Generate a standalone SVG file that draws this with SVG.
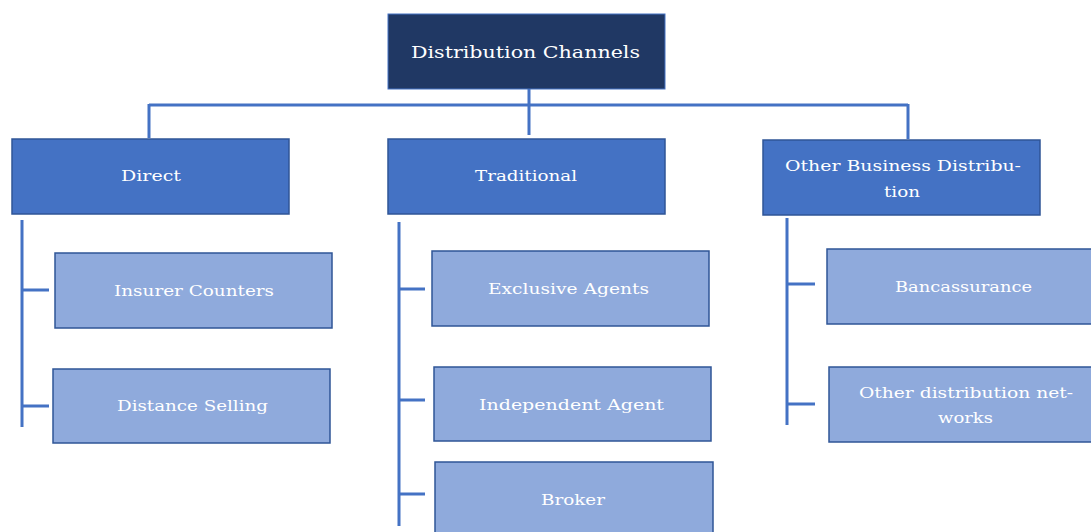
<svg xmlns="http://www.w3.org/2000/svg" width="1091" height="532" viewBox="0 0 1091 532">
<style>
.root{fill:#203864;stroke:#4472C4;stroke-width:1}
.l1{fill:#4472C4;stroke:#2F5597;stroke-width:1.5}
.l2{fill:#8FAADC;stroke:#2F5597;stroke-width:1.5}
.t{font-family:"DejaVu Serif","Liberation Serif",serif;font-size:15px;fill:#ffffff;text-anchor:middle;dominant-baseline:central}
.tr{font-size:17px}
.c{fill:none;stroke:#4472C4;stroke-width:3}
</style>
<rect width="1091" height="532" fill="#ffffff"/>
<g id="connectors">
<path class="c" d="M529 89V135M149 105H908M149 104V138M908 104V139"/>
<path class="c" d="M22 220V427M22 290H49M22 406H49"/>
<path class="c" d="M399 222V526M399 289H425M399 400H425M399 494H425"/>
<path class="c" d="M787 218V425M787 284H815M787 404H815"/>
</g>
<g id="root"><rect class="root" x="388" y="14" width="277" height="75"/><text class="t tr" x="525.5" y="52" textLength="229" lengthAdjust="spacingAndGlyphs">Distribution Channels</text></g>
<g id="direct"><rect class="l1" x="12" y="139" width="277" height="75"/><text class="t" x="151" y="176" textLength="60" lengthAdjust="spacingAndGlyphs">Direct</text></g>
<g id="traditional"><rect class="l1" x="388" y="139" width="277" height="75"/><text class="t" x="526" y="176" textLength="102" lengthAdjust="spacingAndGlyphs">Traditional</text></g>
<g id="other-business"><rect class="l1" x="763" y="140" width="277" height="75"/><text class="t" x="903" y="166" textLength="236" lengthAdjust="spacingAndGlyphs">Other Business Distribu-</text><text class="t" x="902" y="192" textLength="36" lengthAdjust="spacingAndGlyphs">tion</text></g>
<g id="insurer-counters"><rect class="l2" x="55" y="253" width="277" height="75"/><text class="t" x="194" y="291" textLength="160" lengthAdjust="spacingAndGlyphs">Insurer Counters</text></g>
<g id="distance-selling"><rect class="l2" x="53" y="369" width="277" height="74"/><text class="t" x="192.5" y="406" textLength="151" lengthAdjust="spacingAndGlyphs">Distance Selling</text></g>
<g id="exclusive-agents"><rect class="l2" x="432" y="251" width="277" height="75"/><text class="t" x="568.5" y="289" textLength="161" lengthAdjust="spacingAndGlyphs">Exclusive Agents</text></g>
<g id="independent-agent"><rect class="l2" x="434" y="367" width="277" height="74"/><text class="t" x="571.5" y="405" textLength="185" lengthAdjust="spacingAndGlyphs">Independent Agent</text></g>
<g id="broker"><rect class="l2" x="435" y="462" width="278" height="75"/><text class="t" x="573" y="500" textLength="64" lengthAdjust="spacingAndGlyphs">Broker</text></g>
<g id="bancassurance"><rect class="l2" x="827" y="249" width="270" height="75"/><text class="t" x="963.5" y="287" textLength="137" lengthAdjust="spacingAndGlyphs">Bancassurance</text></g>
<g id="other-networks"><rect class="l2" x="829" y="367" width="270" height="75"/><text class="t" x="966" y="393" textLength="214" lengthAdjust="spacingAndGlyphs">Other distribution net-</text><text class="t" x="965.5" y="418" textLength="55" lengthAdjust="spacingAndGlyphs">works</text></g>
</svg>
